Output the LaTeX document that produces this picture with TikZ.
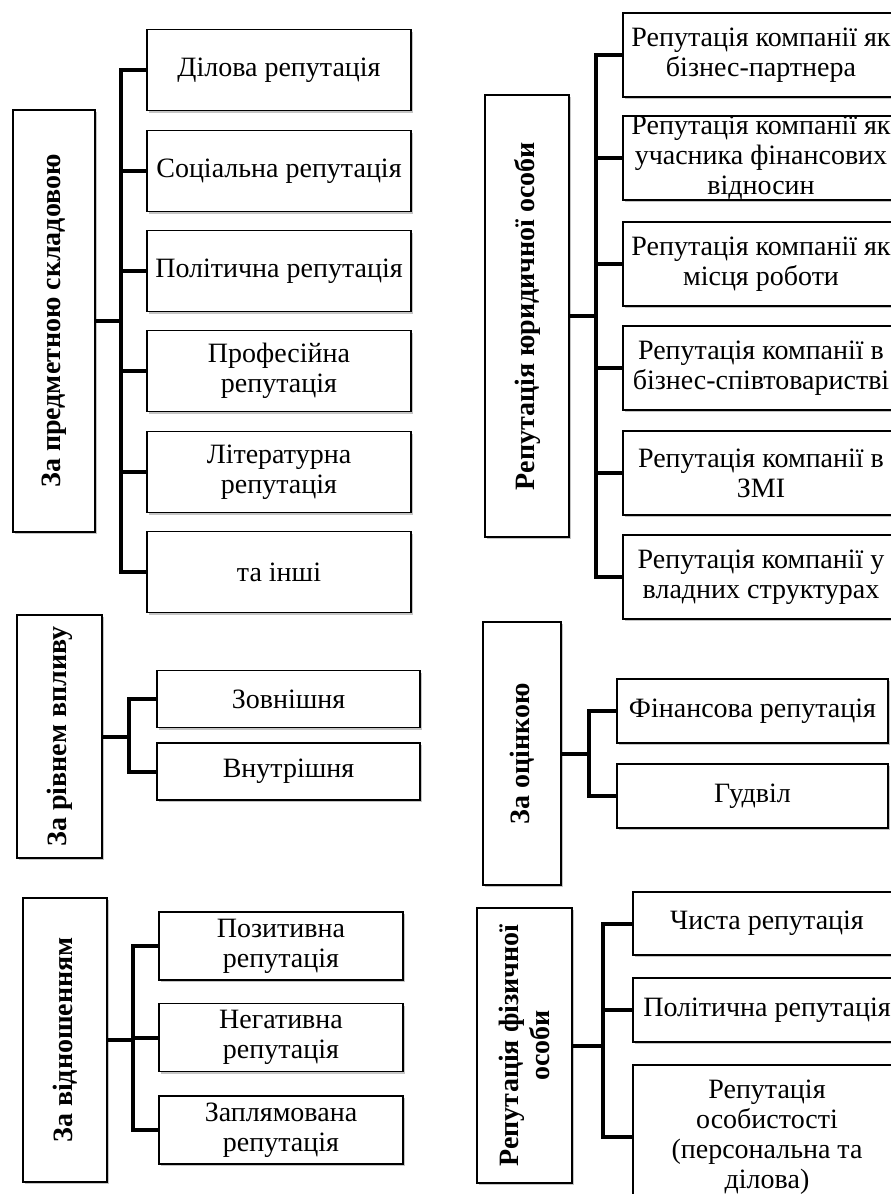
\documentclass[tikz,border=0pt]{standalone}
\usepackage{fontspec}
\setmainfont{Liberation Serif}
\usetikzlibrary{shadows}

\tikzset{%
  every item/.style={
    rectangle,
    draw,
    fill=white,
    line width=1.5pt,
    inner sep=0pt,
    align=center,
    font=\fontsize{28}{30}\selectfont,
    drop shadow={shadow xshift=1.5pt, shadow yshift=-2pt, fill=black!45, opacity=0.5}
  },
  every group/.style={
    every item
  },
  group text/.style={
    rotate=90,
    align=center,
    inner sep=0pt,
    font=\fontsize{28}{31}\selectfont\bfseries
  },
  bus/.style={
    line width=4pt
  },
}

\begin{document}
\begin{tikzpicture}[x=1pt, y=-1pt]
\useasboundingbox (0,0) rectangle (891,1194);
\clip (0,0) rectangle (891,1194);

\node [every group, minimum width=82, minimum height=422,
  label={[group text]center:За предметною складовою}] (subject) at (54,321) {};
\foreach \t/\c [count=\i] in {{Ділова репутація}/70, {Соціальна репутація}/171,
    {Політична репутація}/271, {Професійна\\репутація}/371,
    {Літературна\\репутація}/472, {та інші}/572}
  \node [every item, minimum width=264, minimum height=81] (subject-\i) at (279,\c) {\t};

\node [every group, minimum width=84, minimum height=442,
  label={[group text]center:Репутація юридичної особи}] (legal) at (527,316) {};
\foreach \t/\c [count=\i] in {{Репутація компанії як\\бізнес-партнера}/55,
    {Репутація компанії як\\учасника фінансових\\відносин}/158,
    {Репутація компанії як\\місця роботи}/264,
    {Репутація компанії в\\бізнес-співтоваристві}/368,
    {Репутація компанії в\\ЗМІ}/473,
    {Репутація компанії у\\владних структурах}/577}
  \node [every item, minimum width=276, minimum height=84] (legal-\i) at (761,\c) {\t};

\node [every group, minimum width=85, minimum height=243,
  label={[group text]center:За рівнем впливу}] (level) at (59.5,736.5) {};
\foreach \t/\c [count=\i] in {Зовнішня/699, Внутрішня/771.5}
  \node [every item, minimum width=263, minimum height=57] (level-\i) at (288.5,\c) {\t};

\node [every group, minimum width=78, minimum height=263,
  label={[group text]center:За оцінкою}] (rating) at (522,753.5) {};
\foreach \t/\c [count=\i] in {{Фінансова репутація}/711, Гудвіл/796}
  \node [every item, minimum width=271, minimum height=64] (rating-\i) at (752.5,\c) {\t};

\node [every group, minimum width=84, minimum height=284,
  label={[group text]center:За відношенням}] (attitude) at (65,1040) {};
\foreach \t/\c [count=\i] in {{Позитивна\\репутація}/946, {Негативна\\репутація}/1037.5,
    {Заплямована\\репутація}/1130}
  \node [every item, minimum width=244, minimum height=68] (attitude-\i) at (281,\c) {\t};

\node [every group, minimum width=95, minimum height=275,
  label={[group text]center:Репутація фізичної\\особи}] (person) at (524.5,1045.5) {};
\foreach \t/\c/\h [count=\i] in {{Чиста репутація}/923.5/63, {Політична репутація}/1010/64,
    {Репутація\\особистості\\(персональна та\\ділова)}/1137/144}
  \node [every item, minimum width=268, minimum height=\h] (person-\i) at (767,\c) {\t};

\foreach \g/\d/\n in {subject/25/6, legal/26/6, level/26/2, rating/27/2, attitude/25/3, person/30/3} {
  \draw [bus] (\g.east) -- ++(\d,0) coordinate (\g-bus);
  \foreach \i in {1,...,\n}
    \draw [bus] (\g-bus) |- (\g-\i.west);
}

\end{tikzpicture}
\end{document}
